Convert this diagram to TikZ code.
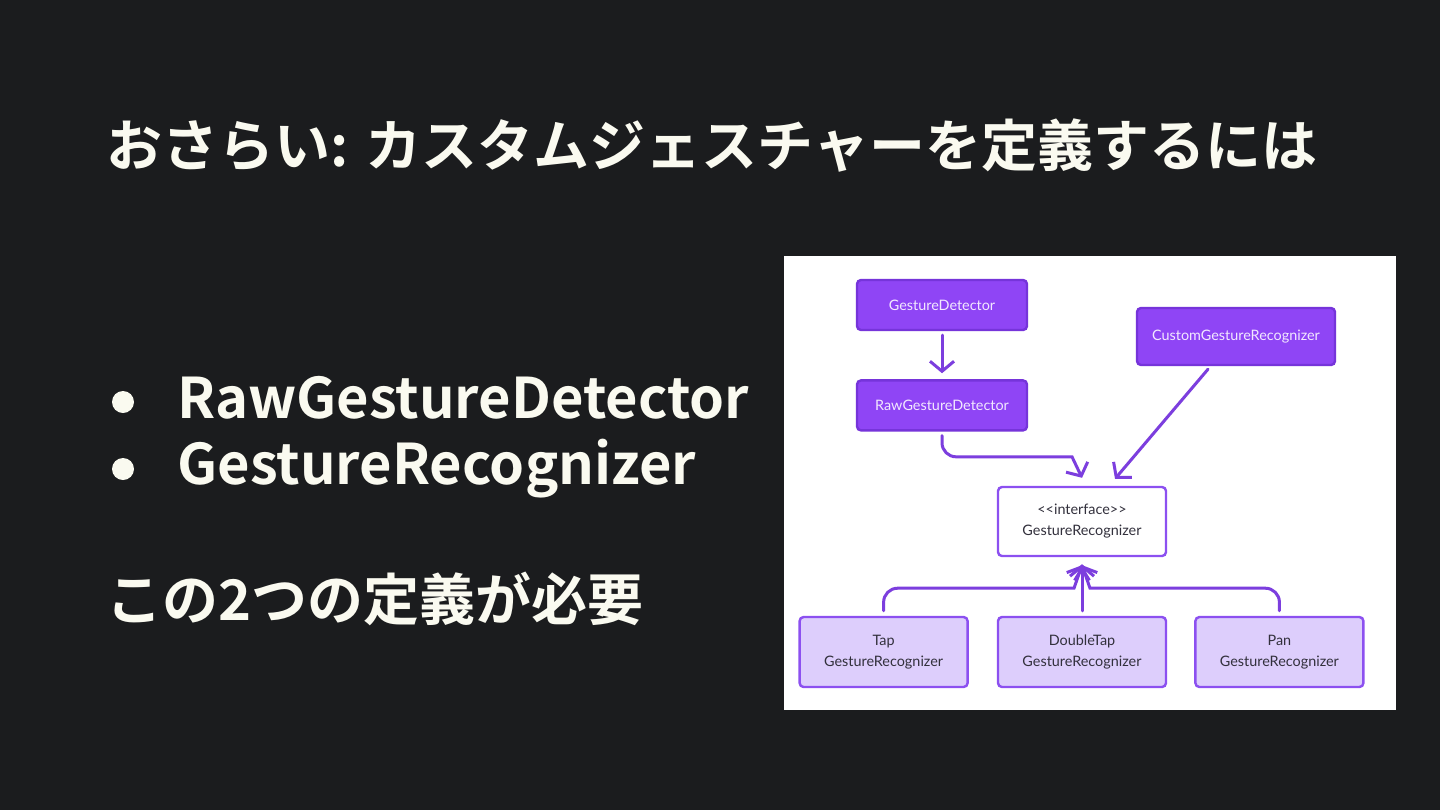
\documentclass[tikz,border=0pt]{standalone}
\usepackage{fontspec}
\newfontfamily\jpfont{Noto Sans CJK JP Bold}
\newfontfamily\boxfont{Lato}
\usetikzlibrary{arrows.meta,positioning,calc}
\definecolor{slidebg}{RGB}{27,28,30}
\definecolor{slidecream}{RGB}{250,250,240}
\definecolor{gpurple}{RGB}{143,69,245}
\definecolor{gpurpleedge}{RGB}{118,52,218}
\definecolor{glavender}{RGB}{221,206,252}
\definecolor{gedge}{RGB}{140,80,240}
\definecolor{garrow}{RGB}{124,62,222}
\definecolor{gtextlight}{RGB}{242,232,255}
\definecolor{gtextdark}{RGB}{50,48,60}
\tikzset{
  slidetitle/.style={anchor=base west, inner sep=0pt, text=slidecream,
                     font=\jpfont\fontsize{28}{32}\selectfont},
  slideitem/.style={slidetitle},
  bulletdot/.style={circle, fill=slidecream, inner sep=0pt, minimum size=11pt},
  gbox/.style={rectangle, rounded corners=2pt, line width=1.2pt, align=center,
               font=\boxfont\fontsize{7.2}{10.5}\selectfont, inner sep=0pt},
  gboxdark/.style={gbox, fill=gpurple, draw=gpurpleedge, text=gtextlight,
                   minimum width=85pt, minimum height=25pt},
  gboxlight/.style={gbox, fill=glavender, draw=gedge, text=gtextdark,
                    minimum width=84pt, minimum height=35pt},
  gboxiface/.style={gbox, fill=white, draw=gedge, text=gtextdark,
                    minimum width=84pt, minimum height=34.5pt},
  garrow/.style={-{Straight Barb[length=5pt, width=12pt, line width=1.5pt]},
                 line width=1.5pt, draw=garrow, line cap=round},
}
\begin{document}
\begin{tikzpicture}[x=0.5pt, y=-0.5pt, node distance=24pt]
% slide background and diagram panel
\fill[slidebg] (0,0) rectangle (1440,810);
\fill[white] (784,256) rectangle (1396,710);
\useasboundingbox (0,0) rectangle (1440,810);

% left-hand text
\node[slidetitle] (title) at (106,166) {おさらい: カスタムジェスチャーを定義するには};
\node[bulletdot] (dot1) at (123,402) {};
\node[bulletdot] (dot2) at (123,469) {};
\node[slideitem] (item1) at (177,418) {RawGestureDetector};
\node[slideitem] (item2) at (177,484) {GestureRecognizer};
\node[slideitem] (need) at (106,620) {この2つの定義が必要};

% class diagram
\node[gboxdark] (gd) at (942,305) {GestureDetector};
\node[gboxdark, below=of gd] (raw) {RawGestureDetector};
\node[gboxdark, minimum width=99pt, minimum height=28.5pt] (custom) at (1236,336.5) {CustomGestureRecognizer};
\node[gboxiface] (iface) at (1082,521.5) {<<interface>>\\GestureRecognizer};
\node[gboxlight] (dtap) at (1082,652) {DoubleTap\\GestureRecognizer};
\node[gboxlight, left=14pt of dtap] (tap) {Tap\\GestureRecognizer};
\node[gboxlight, right=13.5pt of dtap] (pan) {Pan\\GestureRecognizer};

\draw[garrow, shorten <=2pt, shorten >=3pt] (gd) -- (raw);
\draw[garrow, rounded corners=7pt] ($(raw.south)+(0,4)$) |- ($(iface.north)+(-24,-29)$)
  .. controls +(14,0) .. ($(iface.north)+(0,-8)$);
\draw[garrow] ($(custom.south)+(-28,3)$) -- ($(iface.north)+(33,-7)$);

\draw[garrow, shorten <=2.5pt, shorten >=3.5pt] (dtap) -- (iface);
\draw[garrow, rounded corners=7pt] ($(tap.north)+(0,-5)$) |- ($(iface.south)+(-22,31)$)
  .. controls +(14,0) .. ($(iface.south)+(0,8)$);
\draw[garrow, rounded corners=7pt] ($(pan.north)+(0,-5)$) |- ($(iface.south)+(22,31)$)
  .. controls +(-14,0) .. ($(iface.south)+(0,8)$);
\end{tikzpicture}
\end{document}
